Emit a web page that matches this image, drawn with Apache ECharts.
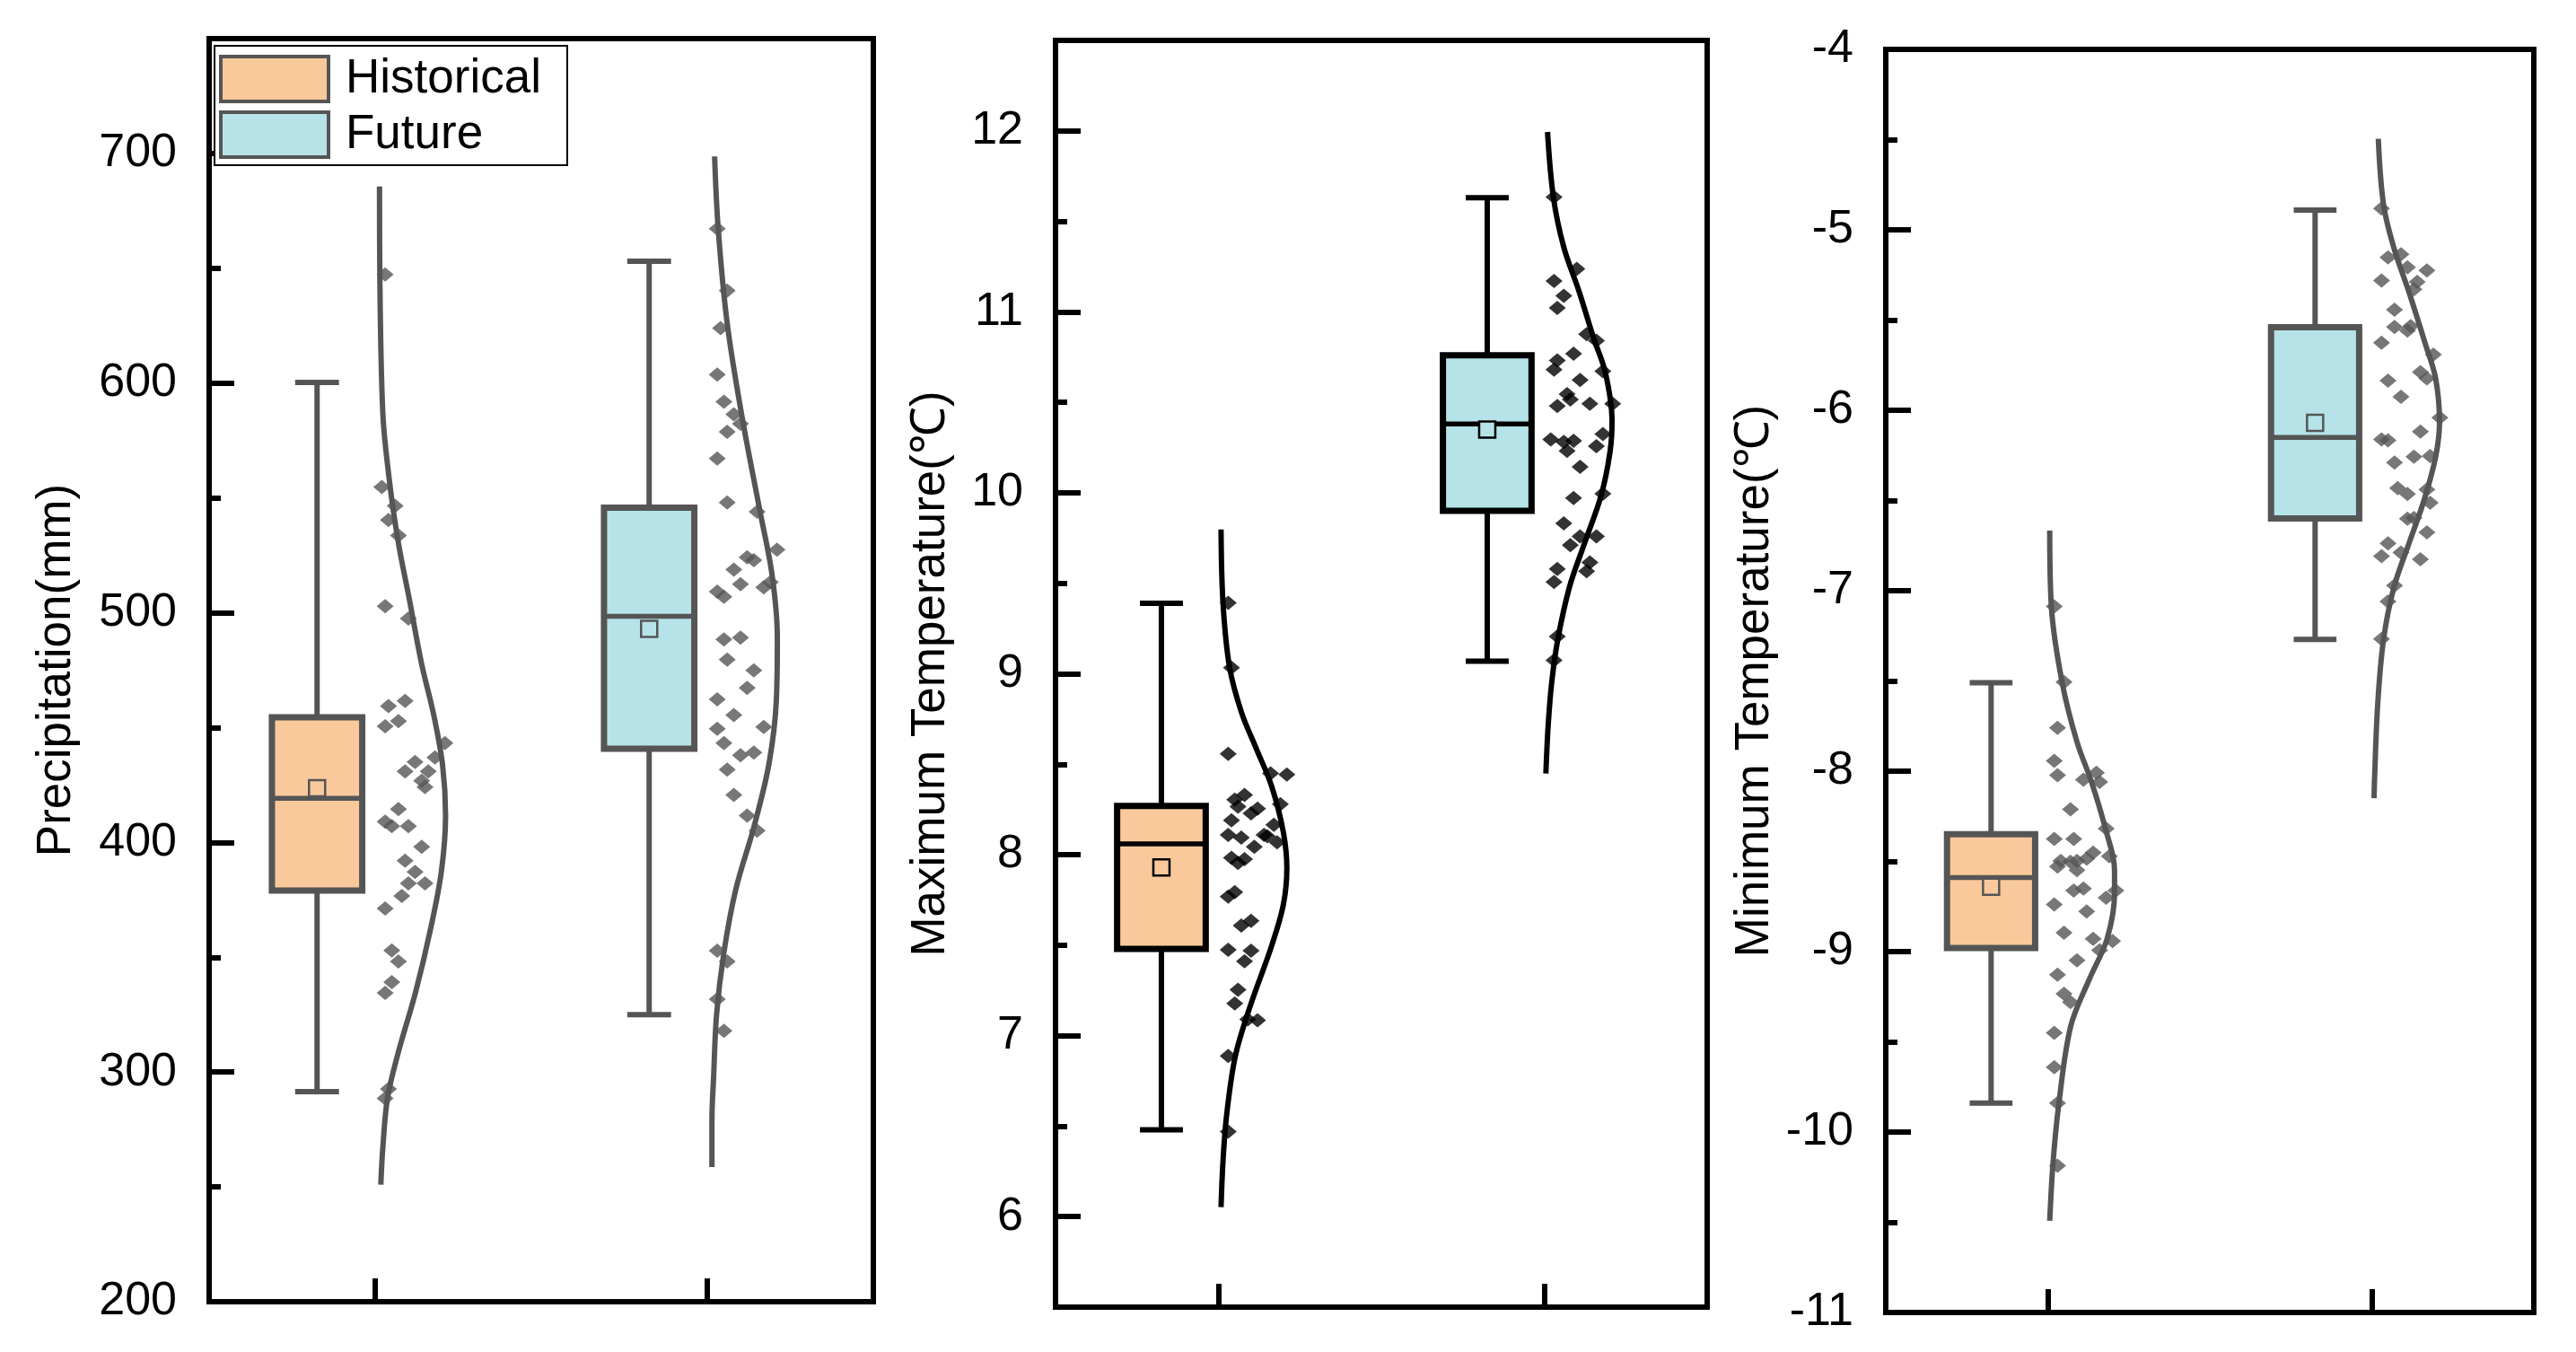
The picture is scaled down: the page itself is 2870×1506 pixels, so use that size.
<!DOCTYPE html>
<html>
<head>
<meta charset="utf-8">
<title>Historical vs Future</title>
<script src="https://cdn.jsdelivr.net/npm/echarts@6/dist/echarts.min.js"></script>
<style>
  html, body { margin: 0; padding: 0; background: #fff; }
  #chart { width: 2870px; height: 1506px; }
</style>
</head>
<body>
<div id="chart"></div>
<script>
// ---- data ----
// box stats: [lowerWhisker, Q1, median, Q3, upperWhisker, mean]
const p1HistBox = [291.5, 379, 419.2, 454.5, 600.3, 423.6]
const p1FutBox = [325, 440.8, 498.5, 545.8, 653.1, 493]
const p2HistBox = [6.48, 7.48, 8.06, 8.27, 9.39, 7.93]
const p2FutBox = [9.07, 9.90, 10.38, 10.76, 11.63, 10.35]
const p3HistBox = [-9.84, -8.98, -8.59, -8.35, -7.51, -8.64]
const p3FutBox = [-7.27, -6.60, -6.15, -5.54, -4.89, -6.07]

// raw points (value) and their horizontal jitter from the category tick
const p1HistPts = [647.3, 554.7, 546.5, 540.4, 533.6, 502.9, 497.5, 459.4, 461.6, 450.6, 452.8, 443.2, 435.0, 430.9, 430.9, 437.0, 426.8, 424.1, 414.5, 409.0, 407.1, 407.1, 398.1, 392.0, 387.1, 382.2, 382.2, 376.7, 371.2, 352.9, 348.2, 339.2, 334.5, 292.6, 288.5]
const p1HistJit = [0.03, 0.02, 0.06, 0.04, 0.07, 0.03, 0.10, 0.04, 0.09, 0.03, 0.07, 0.21, 0.12, 0.09, 0.16, 0.18, 0.14, 0.15, 0.07, 0.03, 0.05, 0.10, 0.14, 0.09, 0.12, 0.10, 0.15, 0.08, 0.03, 0.05, 0.07, 0.05, 0.03, 0.04, 0.03]
const p1FutPts = [667.2, 640.3, 623.9, 603.7, 591.9, 586.4, 578.8, 582.3, 567.2, 548.0, 544.0, 527.5, 524.2, 522.9, 518.8, 512.4, 511.1, 509.2, 507.0, 513.3, 488.4, 489.2, 479.6, 474.9, 467.3, 462.3, 455.5, 450.3, 449.5, 443.2, 438.0, 439.1, 431.7, 420.7, 411.7, 405.1, 352.8, 348.2, 331.7, 318.0]
const p1FutJit = [0.03, 0.06, 0.04, 0.03, 0.05, 0.08, 0.06, 0.10, 0.03, 0.06, 0.15, 0.21, 0.12, 0.14, 0.08, 0.10, 0.17, 0.03, 0.05, 0.19, 0.05, 0.10, 0.06, 0.14, 0.12, 0.03, 0.08, 0.17, 0.03, 0.05, 0.10, 0.14, 0.06, 0.08, 0.12, 0.15, 0.03, 0.06, 0.03, 0.05]

const p2HistPts = [9.392, 9.033, 8.557, 8.443, 8.449, 8.279, 8.304, 8.330, 8.266, 8.229, 8.254, 8.190, 8.165, 8.110, 8.094, 8.110, 8.102, 8.069, 8.044, 7.983, 7.975, 7.955, 7.768, 7.793, 7.634, 7.609, 7.474, 7.470, 7.411, 7.254, 7.178, 7.085, 7.090, 6.888, 6.470]
const p2HistJit = [0.03, 0.04, 0.03, 0.21, 0.16, 0.19, 0.05, 0.08, 0.06, 0.10, 0.12, 0.04, 0.17, 0.03, 0.07, 0.14, 0.15, 0.18, 0.11, 0.04, 0.08, 0.06, 0.03, 0.05, 0.10, 0.07, 0.03, 0.10, 0.08, 0.06, 0.05, 0.12, 0.09, 0.03, 0.03]
const p2FutPts = [11.634, 11.237, 11.170, 11.088, 11.021, 10.877, 10.841, 10.768, 10.732, 10.680, 10.624, 10.672, 10.492, 10.545, 10.516, 10.480, 10.492, 10.295, 10.281, 10.288, 10.232, 10.324, 10.257, 10.144, 9.971, 9.995, 9.831, 9.759, 9.759, 9.711, 9.615, 9.567, 9.579, 9.507, 9.206, 9.074]
const p2FutJit = [0.03, 0.10, 0.03, 0.06, 0.04, 0.13, 0.16, 0.09, 0.04, 0.03, 0.11, 0.18, 0.21, 0.07, 0.08, 0.04, 0.14, 0.02, 0.06, 0.09, 0.07, 0.18, 0.16, 0.11, 0.09, 0.18, 0.06, 0.11, 0.16, 0.08, 0.14, 0.13, 0.04, 0.03, 0.04, 0.03]

const p3HistPts = [-7.087, -7.506, -7.760, -7.943, -8.022, -8.047, -8.060, -8.009, -8.212, -8.375, -8.375, -8.319, -8.497, -8.502, -8.497, -8.451, -8.485, -8.528, -8.548, -8.471, -8.662, -8.650, -8.662, -8.701, -8.739, -8.777, -8.896, -8.929, -8.942, -8.993, -9.049, -9.128, -9.234, -9.280, -9.450, -9.641, -9.839, -10.187]
const p3HistJit = [0.02, 0.05, 0.03, 0.02, 0.03, 0.11, 0.16, 0.15, 0.07, 0.02, 0.08, 0.18, 0.04, 0.07, 0.09, 0.14, 0.12, 0.03, 0.09, 0.19, 0.08, 0.11, 0.21, 0.18, 0.02, 0.12, 0.05, 0.14, 0.20, 0.16, 0.09, 0.03, 0.05, 0.07, 0.02, 0.02, 0.03, 0.03]
const p3FutPts = [-4.882, -5.153, -5.136, -5.225, -5.208, -5.281, -5.288, -5.329, -5.443, -5.539, -5.558, -5.534, -5.626, -5.691, -5.788, -5.824, -5.836, -5.925, -6.041, -6.118, -6.162, -6.167, -6.258, -6.254, -6.290, -6.432, -6.464, -6.439, -6.512, -6.601, -6.597, -6.676, -6.737, -6.809, -6.789, -6.826, -6.971, -7.060, -7.268]
const p3FutJit = [0.03, 0.05, 0.09, 0.17, 0.11, 0.03, 0.14, 0.13, 0.07, 0.07, 0.11, 0.12, 0.03, 0.19, 0.15, 0.17, 0.05, 0.09, 0.21, 0.15, 0.03, 0.05, 0.13, 0.18, 0.07, 0.08, 0.11, 0.17, 0.18, 0.11, 0.13, 0.17, 0.05, 0.03, 0.09, 0.15, 0.07, 0.05, 0.03]

// distribution curves: value along y, width from the tick
const p1HistCurveV = [685.6, 647, 587, 559.7, 532, 505, 477.6, 455.7, 433.6, 411.7, 387, 362.5, 335, 307.7, 288.6, 267, 251]
const p1HistCurveW = [0.013, 0.014, 0.023, 0.041, 0.068, 0.104, 0.140, 0.176, 0.203, 0.212, 0.199, 0.167, 0.122, 0.068, 0.037, 0.023, 0.017]
const p1FutCurveV = [698.7, 667, 626, 585, 544, 516.6, 489, 462, 434.4, 407, 379.6, 352, 325, 297.6, 279, 258.6]
const p1FutCurveW = [0.022, 0.033, 0.060, 0.105, 0.159, 0.195, 0.211, 0.208, 0.186, 0.141, 0.086, 0.050, 0.028, 0.019, 0.014, 0.014]
const p2HistCurveV = [9.797, 9.392, 9.037, 8.785, 8.583, 8.380, 8.127, 7.925, 7.722, 7.495, 7.166, 6.888, 6.559, 6.306, 6.053]
const p2HistCurveW = [0.008, 0.014, 0.034, 0.071, 0.117, 0.163, 0.199, 0.210, 0.199, 0.163, 0.098, 0.052, 0.025, 0.014, 0.008]
const p2FutCurveV = [11.994, 11.634, 11.357, 11.117, 10.853, 10.661, 10.396, 10.228, 9.988, 9.723, 9.483, 9.194, 8.954, 8.714, 8.449]
const p2FutCurveW = [0.010, 0.028, 0.060, 0.106, 0.152, 0.188, 0.208, 0.202, 0.175, 0.124, 0.078, 0.042, 0.023, 0.012, 0.005]
const p3HistCurveV = [-6.667, -7.087, -7.506, -7.837, -8.065, -8.319, -8.548, -8.675, -8.929, -9.158, -9.412, -9.845, -10.175, -10.492]
const p3HistCurveW = [0.006, 0.011, 0.044, 0.090, 0.136, 0.178, 0.206, 0.206, 0.183, 0.127, 0.071, 0.034, 0.016, 0.006]
const p3FutCurveV = [-4.496, -4.858, -5.099, -5.341, -5.631, -5.824, -6.065, -6.258, -6.500, -6.741, -6.983, -7.273, -7.635, -8.069, -8.15]
const p3FutCurveW = [0.020, 0.036, 0.068, 0.114, 0.165, 0.197, 0.209, 0.197, 0.161, 0.114, 0.068, 0.036, 0.018, 0.008, 0.007]

// tick labels
const p1Labels = [200, 300, 400, 500, 600, 700]
const p1Minor = [250, 350, 450, 550, 650]
const p2Labels = [6, 7, 8, 9, 10, 11, 12]
const p2Minor = [6.5, 7.5, 8.5, 9.5, 10.5, 11.5]
const p3Labels = [-11, -10, -9, -8, -7, -6, -5, -4]
const p3Minor = [-10.5, -9.5, -8.5, -7.5, -6.5, -5.5, -4.5]

// ---- styling ----
const FONT = "'Liberation Sans', Arial, sans-serif"
const ORANGE = '#F9C99B'
const CYAN = '#B5E3E8'
const HIST_X = 1
const FUT_X = 2
const BOX_SHIFT = -0.175
const BOX_W = 0.272
const CAP_W = 0.132
const MEAN_SIZE = 18

const panels = [
  {
    grid: { left: 233, top: 43, width: 740, height: 1407 },
    min: 200, max: 750, labels: p1Labels, minor: p1Minor,
    name: 'Precipitation(mm)', nameGap: 143, ink: '#555555',
    hist: { box: p1HistBox, pts: p1HistPts, jit: p1HistJit, cv: p1HistCurveV, cw: p1HistCurveW },
    fut: { box: p1FutBox, pts: p1FutPts, jit: p1FutJit, cv: p1FutCurveV, cw: p1FutCurveW }
  },
  {
    grid: { left: 1176, top: 45, width: 726, height: 1411 },
    min: 5.5, max: 12.5, labels: p2Labels, minor: p2Minor,
    name: 'Maximum Temperature(℃)', nameGap: 112, ink: '#000000',
    hist: { box: p2HistBox, pts: p2HistPts, jit: p2HistJit, cv: p2HistCurveV, cw: p2HistCurveW },
    fut: { box: p2FutBox, pts: p2FutPts, jit: p2FutJit, cv: p2FutCurveV, cw: p2FutCurveW }
  },
  {
    grid: { left: 2101, top: 55, width: 722, height: 1407 },
    min: -11, max: -4, labels: p3Labels, minor: p3Minor,
    name: 'Minimum Temperature(℃)', nameGap: 119, ink: '#555555',
    hist: { box: p3HistBox, pts: p3HistPts, jit: p3HistJit, cv: p3HistCurveV, cw: p3HistCurveW },
    fut: { box: p3FutBox, pts: p3FutPts, jit: p3FutJit, cv: p3FutCurveV, cw: p3FutCurveW }
  }
]

function boxSeries(i, name, tick, stats, fill, ink) {
  return {
    type: 'custom',
    name: name,
    xAxisIndex: i,
    yAxisIndex: 2 * i,
    z: 3,
    itemStyle: { color: fill },
    encode: { x: 0, y: [1, 2, 3, 4, 5, 6] },
    data: [[tick + BOX_SHIFT].concat(stats)],
    renderItem: function(params, api) {
      const x = api.value(0)
      const c = k => api.coord([x, api.value(k)])
      const lo = c(1), q1 = c(2), med = c(3), q3 = c(4), hi = c(5), mean = c(6)
      const cx = lo[0]
      const half = api.size([BOX_W, 0])[0] / 2
      const cap = api.size([CAP_W, 0])[0] / 2
      const ls = { stroke: ink, lineWidth: 6, fill: null }
      return {
        type: 'group',
        children: [
          { type: 'line', shape: { x1: cx, y1: hi[1], x2: cx, y2: q3[1] }, style: ls },
          { type: 'line', shape: { x1: cx, y1: q1[1], x2: cx, y2: lo[1] }, style: ls },
          { type: 'line', shape: { x1: cx - cap, y1: hi[1], x2: cx + cap, y2: hi[1] }, style: ls },
          { type: 'line', shape: { x1: cx - cap, y1: lo[1], x2: cx + cap, y2: lo[1] }, style: ls },
          { type: 'rect', shape: { x: cx - half, y: q3[1], width: 2 * half, height: q1[1] - q3[1] },
            style: { fill: fill, stroke: ink, lineWidth: 7 } },
          { type: 'line', shape: { x1: cx - half, y1: med[1], x2: cx + half, y2: med[1] },
            style: { stroke: ink, lineWidth: 5.5 } },
          { type: 'rect', shape: { x: mean[0] - MEAN_SIZE / 2, y: mean[1] - MEAN_SIZE / 2, width: MEAN_SIZE, height: MEAN_SIZE },
            style: { fill: fill, stroke: ink, lineWidth: 2.5 } }
        ]
      }
    }
  }
}

function pointSeries(i, tick, grp, ink) {
  return {
    type: 'scatter',
    xAxisIndex: i,
    yAxisIndex: 2 * i,
    z: 4,
    symbol: 'diamond',
    symbolSize: [19, 16],
    itemStyle: { color: ink },
    data: grp.pts.map((v, k) => [tick + grp.jit[k], v])
  }
}

function curveSeries(i, tick, grp, ink) {
  return {
    type: 'line',
    xAxisIndex: i,
    yAxisIndex: 2 * i,
    z: 5,
    smooth: 0.35,
    showSymbol: false,
    lineStyle: { color: ink, width: 6 },
    data: grp.cv.map((v, k) => [tick + grp.cw[k], v])
  }
}

const grids = []
const xAxes = []
const yAxes = []
let series = []

panels.forEach((p, i) => {
  grids.push(Object.assign({ show: true, borderColor: '#000', borderWidth: 6, backgroundColor: 'transparent' }, p.grid))
  xAxes.push({
    gridIndex: i,
    type: 'value',
    min: 0.5,
    max: 2.5,
    axisLine: { lineStyle: { color: '#000', width: 6 } },
    axisTick: { inside: true, length: 26, customValues: [HIST_X, FUT_X], lineStyle: { color: '#000', width: 6 } },
    axisLabel: { show: false },
    splitLine: { show: false }
  })
  yAxes.push({
    gridIndex: i,
    type: 'value',
    position: 'left',
    min: p.min,
    max: p.max,
    name: p.name,
    nameLocation: 'middle',
    nameGap: p.nameGap,
    nameTextStyle: { fontSize: 53, color: '#000', fontFamily: FONT },
    axisLine: { show: true, lineStyle: { color: '#000', width: 6 } },
    axisTick: { inside: true, length: 28, customValues: p.labels, lineStyle: { color: '#000', width: 6 } },
    axisLabel: { customValues: p.labels, fontSize: 52, margin: 36, color: '#000', fontFamily: FONT },
    splitLine: { show: false }
  })
  yAxes.push({
    gridIndex: i,
    type: 'value',
    position: 'left',
    offset: 0,
    min: p.min,
    max: p.max,
    axisLine: { show: false },
    axisTick: { inside: true, length: 13, customValues: p.minor, lineStyle: { color: '#000', width: 6 } },
    axisLabel: { show: false },
    splitLine: { show: false }
  })
  series = series.concat([
    boxSeries(i, 'Historical', HIST_X, p.hist.box, ORANGE, p.ink),
    boxSeries(i, 'Future', FUT_X, p.fut.box, CYAN, p.ink),
    pointSeries(i, HIST_X, p.hist, p.ink),
    pointSeries(i, FUT_X, p.fut, p.ink),
    curveSeries(i, HIST_X, p.hist, p.ink),
    curveSeries(i, FUT_X, p.fut, p.ink)
  ])
})

const chart = echarts.init(document.getElementById('chart'))
chart.setOption({
  backgroundColor: '#fff',
  animation: false,
  textStyle: { fontFamily: FONT },
  grid: grids,
  xAxis: xAxes,
  yAxis: yAxes,
  legend: {
    left: 239,
    top: 51,
    orient: 'vertical',
    selectedMode: false,
    icon: 'rect',
    itemWidth: 120,
    itemHeight: 50,
    itemGap: 8,
    padding: [10, 29, 7, 5],
    borderColor: '#000',
    borderWidth: 2,
    backgroundColor: '#fff',
    textStyle: { fontSize: 53, color: '#000', fontFamily: FONT, padding: [0, 0, 0, 14] },
    data: [
      { name: 'Historical', itemStyle: { color: ORANGE, borderColor: '#555555', borderWidth: 4 } },
      { name: 'Future', itemStyle: { color: CYAN, borderColor: '#555555', borderWidth: 4 } }
    ]
  },
  series: series
})
</script>
</body>
</html>
